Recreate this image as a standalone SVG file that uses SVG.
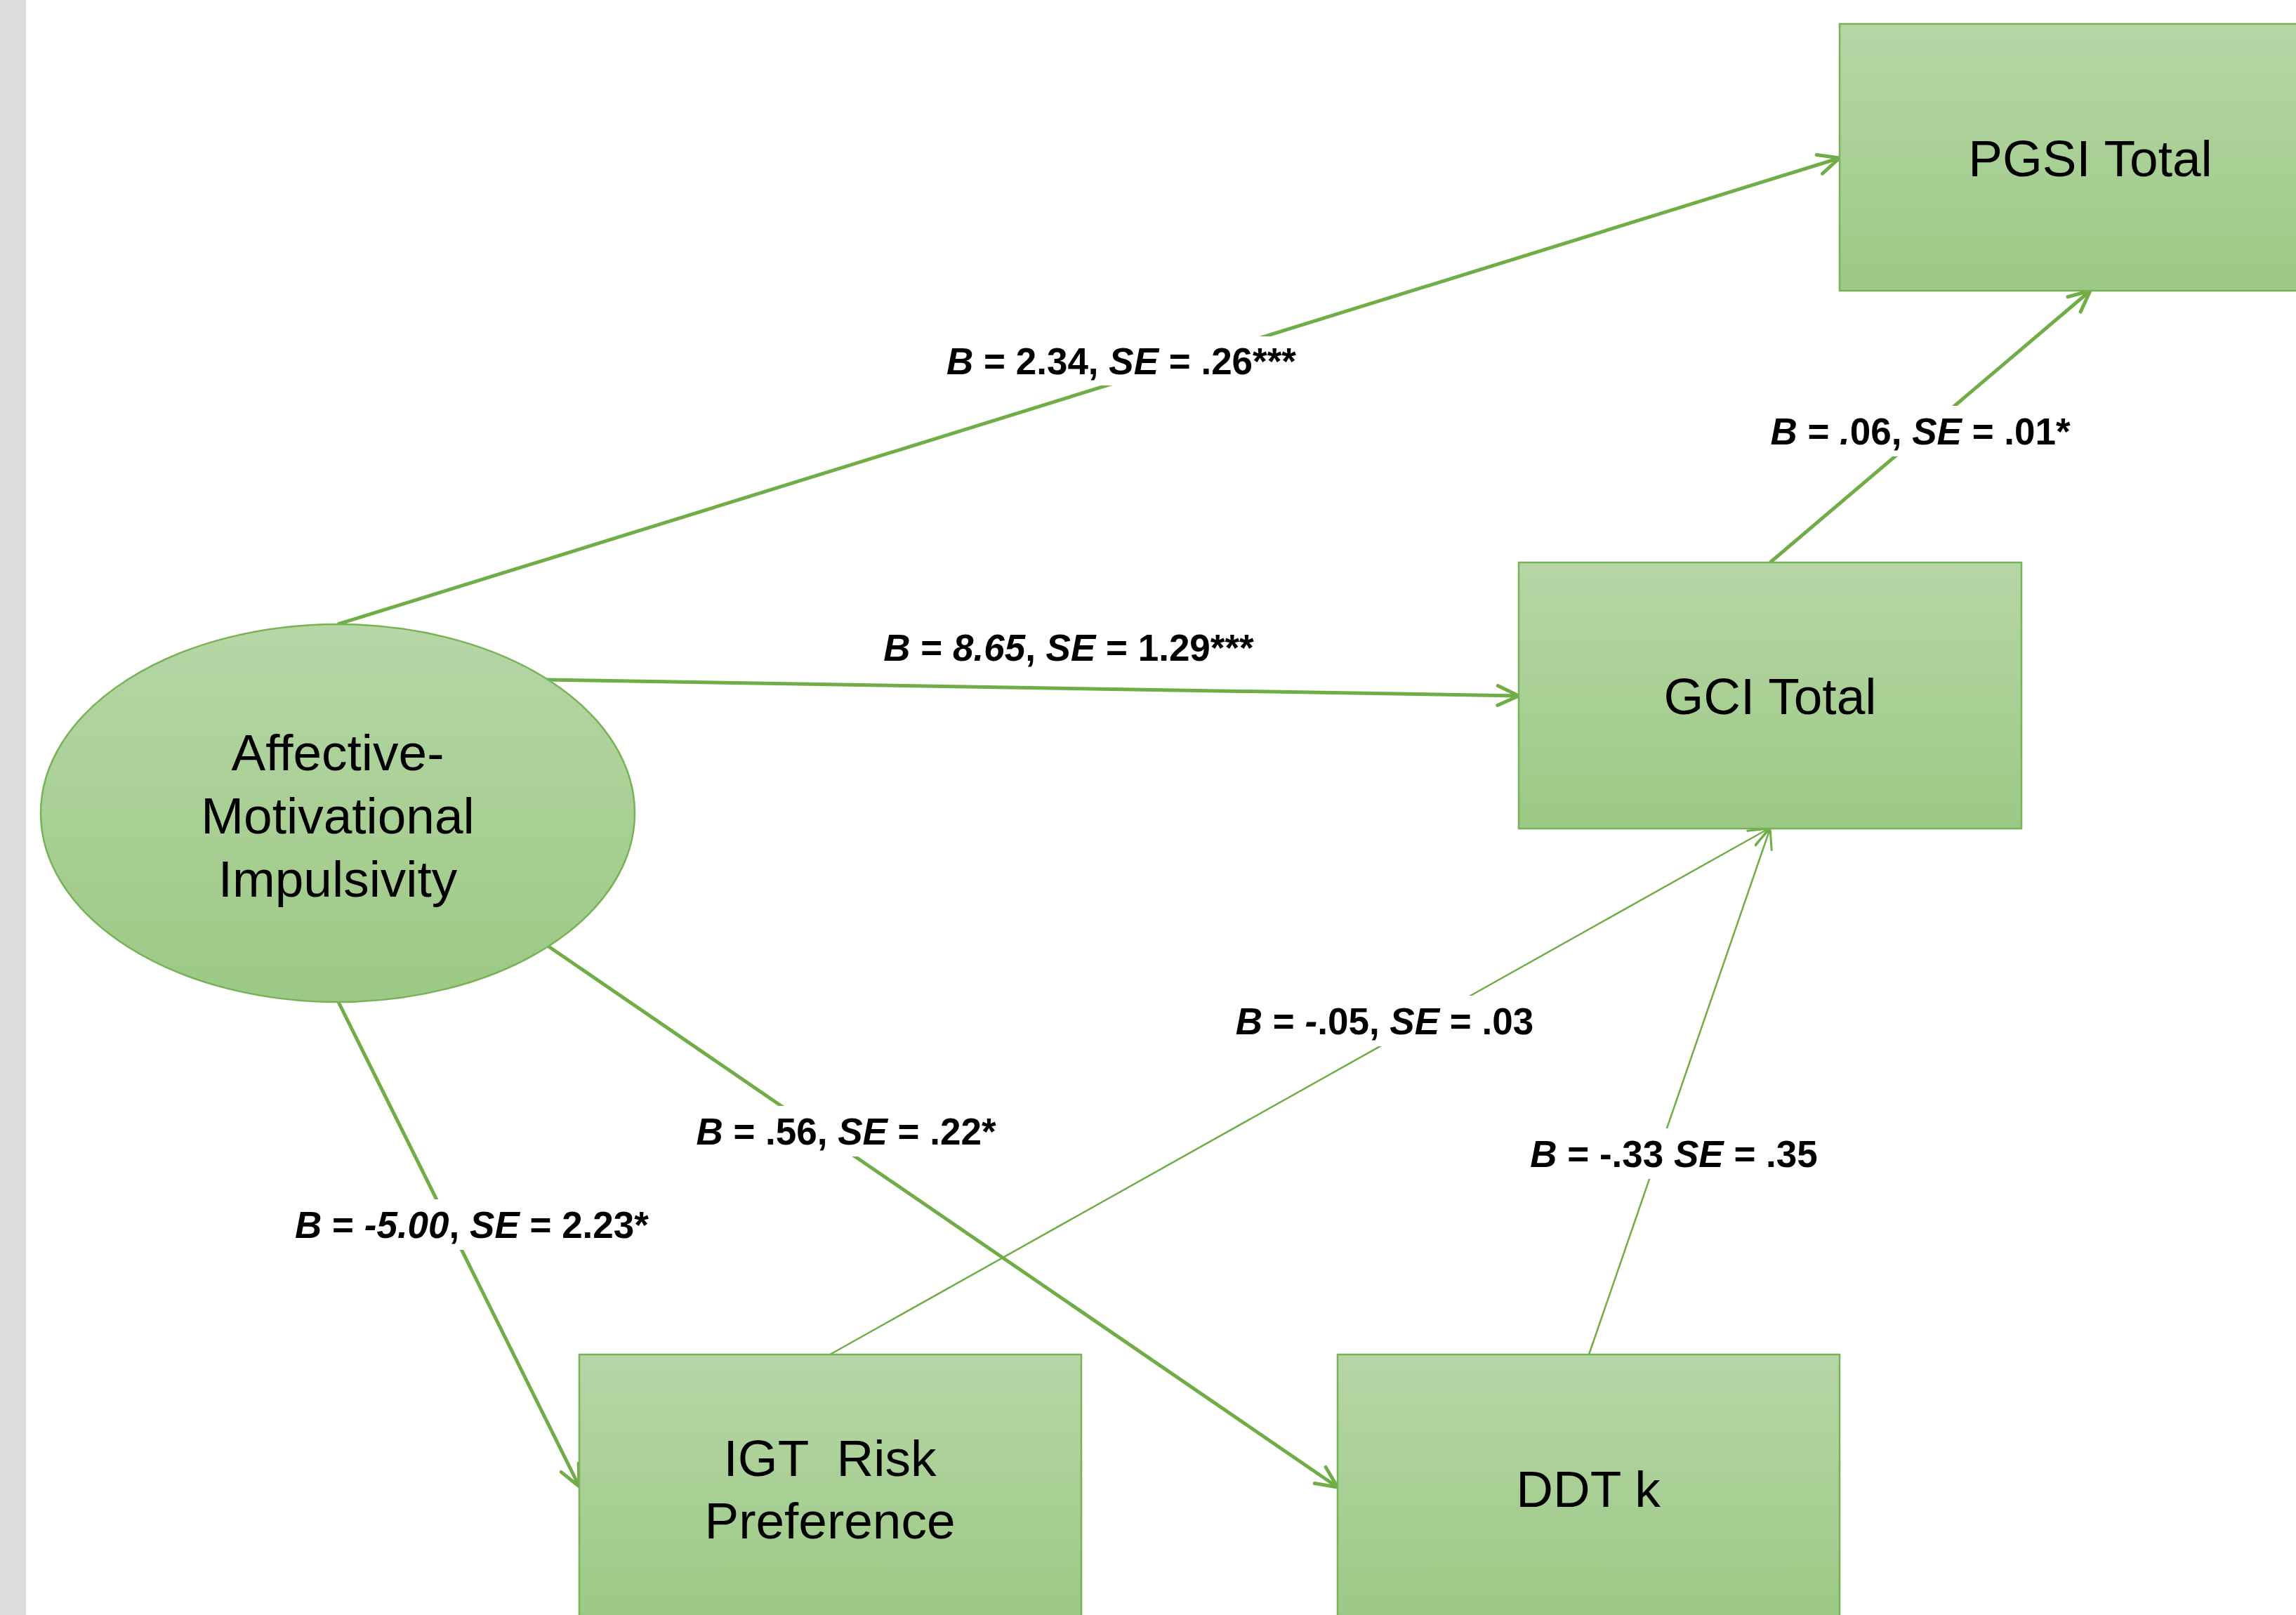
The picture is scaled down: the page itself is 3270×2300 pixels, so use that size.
<svg xmlns="http://www.w3.org/2000/svg" width="3270" height="2300" viewBox="0 0 3270 2300">
<style>
.node{stroke:#77b254;stroke-width:2.5;fill:url(#g)}
.nt{font-family:"Liberation Sans",Arial,sans-serif;font-size:73px;fill:#000;text-anchor:middle}
.lbl{font-family:"Liberation Sans",Arial,sans-serif;font-size:53px;font-weight:bold;fill:#000;text-anchor:middle}
.i{font-style:italic}
.bg{fill:#fff}
.thick{stroke:#70ad47;stroke-width:5;fill:none;marker-end:url(#ah)}
.thin{stroke:#70ad47;stroke-width:2.5;fill:none;marker-end:url(#ahs)}
</style>
<defs>
<linearGradient id="g" x1="0" y1="0" x2="0" y2="1">
<stop offset="0" stop-color="#b6d6a6"/>
<stop offset="1" stop-color="#9cc985"/>
</linearGradient>
<marker id="ah" markerUnits="userSpaceOnUse" viewBox="-36 -18 40 36" refX="0" refY="0" markerWidth="40" markerHeight="36" orient="auto">
<path d="M -30 -14 L 0 0 L -30 14" fill="none" stroke="#70ad47" stroke-width="5" stroke-linecap="round" stroke-linejoin="round"/>
</marker>
<marker id="ahs" markerUnits="userSpaceOnUse" viewBox="-36 -18 40 36" refX="0" refY="0" markerWidth="40" markerHeight="36" orient="auto">
<path d="M -28 -12 L 0 0 L -28 12" fill="none" stroke="#70ad47" stroke-width="3" stroke-linecap="round" stroke-linejoin="round"/>
</marker>
</defs>
<rect x="0" y="0" width="3270" height="2300" fill="#fff"/>
<rect x="0" y="0" width="37" height="2300" fill="#dcdcde"/>
<g id="connectors">
<line class="thick" x1="481" y1="889" x2="2620" y2="225"/>
<line class="thick" x1="778" y1="968" x2="2163" y2="991"/>
<line class="thick" x1="2521" y1="801" x2="2977" y2="414"/>
<line class="thick" x1="482" y1="1427" x2="825" y2="2117"/>
<line class="thick" x1="780" y1="1347" x2="1905" y2="2118"/>
<line class="thin" x1="1182" y1="1929" x2="2519" y2="1180"/>
<line class="thin" x1="2263" y1="1929" x2="2521" y2="1180"/>
</g>
<g id="labels">
<g id="lbl-ai-pgsi"><rect class="bg" x="1343" y="479" width="508" height="70"/><text class="lbl" x="1597" y="533"><tspan class="i">B</tspan> = 2.34, <tspan class="i">SE</tspan> = .26***</text></g>
<g id="lbl-ai-gci"><text class="lbl" x="1522" y="941"><tspan class="i">B</tspan> = <tspan class="i">8.65</tspan>, <tspan class="i">SE</tspan> = 1.29***</text></g>
<g id="lbl-gci-pgsi"><rect class="bg" x="2516" y="578" width="438" height="72"/><text class="lbl" x="2735" y="633"><tspan class="i">B</tspan> = <tspan class="i">.</tspan>06, <tspan class="i">SE</tspan> = .01*</text></g>
<g id="lbl-ai-igt"><rect class="bg" x="420" y="1708" width="504" height="72"/><text class="lbl" x="672" y="1763"><tspan class="i">B</tspan> = <tspan class="i">-5.00</tspan>, <tspan class="i">SE</tspan> = 2.23*</text></g>
<g id="lbl-ai-ddt"><rect class="bg" x="977" y="1575" width="456" height="72"/><text class="lbl" x="1205" y="1630"><tspan class="i">B</tspan> = .56, <tspan class="i">SE</tspan> = .22*</text></g>
<g id="lbl-igt-gci"><rect class="bg" x="1754" y="1418" width="436" height="72"/><text class="lbl" x="1972" y="1473"><tspan class="i">B</tspan> = <tspan class="i">-</tspan>.05, <tspan class="i">SE</tspan> = .03</text></g>
<g id="lbl-ddt-gci"><rect class="bg" x="2173" y="1607" width="422" height="72"/><text class="lbl" x="2384" y="1662"><tspan class="i">B</tspan> = -.33 <tspan class="i">SE</tspan> = .35</text></g>
</g>
<g id="node-ami">
<ellipse class="node" cx="481" cy="1158" rx="423" ry="269"/>
<text class="nt" x="481" y="1097">Affective-</text>
<text class="nt" x="481" y="1187">Motivational</text>
<text class="nt" x="481" y="1277">Impulsivity</text>
</g>
<g id="node-pgsi">
<rect class="node" x="2620" y="34" width="715" height="380"/>
<text class="nt" x="2977" y="251">PGSI Total</text>
</g>
<g id="node-gci">
<rect class="node" x="2163" y="801" width="716" height="379"/>
<text class="nt" x="2521" y="1017">GCI Total</text>
</g>
<g id="node-igt">
<rect class="node" x="825" y="1929" width="715" height="380"/>
<text class="nt" x="1182" y="2102" xml:space="preserve">IGT  Risk</text>
<text class="nt" x="1182" y="2191">Preference</text>
</g>
<g id="node-ddt">
<rect class="node" x="1905" y="1929" width="715" height="380"/>
<text class="nt" x="2262" y="2146">DDT k</text>
</g>
</svg>
